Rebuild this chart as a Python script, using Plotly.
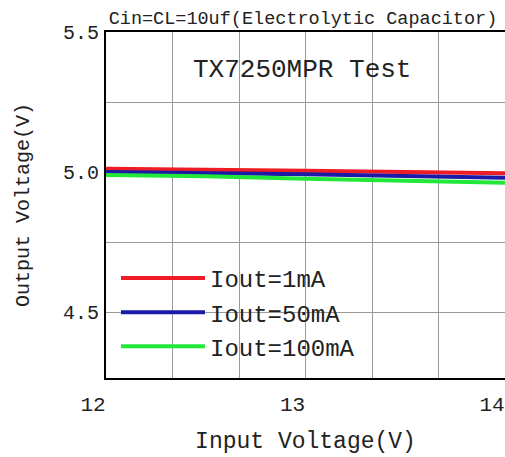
import plotly.graph_objects as go

vin = [12.0, 12.5, 13.0, 13.5, 14.0]
vout_1ma = [5.012, 5.010, 5.005, 5.000, 4.996]
vout_50ma = [5.000, 4.997, 4.992, 4.986, 4.980]
vout_100ma = [4.990, 4.985, 4.976, 4.968, 4.962]
names = ["Iout=1mA", "Iout=50mA", "Iout=100mA"]
colors = ["#ee1c24", "#1a1aa6", "#22e83a"]
x_ticks = [12, 13, 14]
y_ticks = [4.5, 5.0, 5.5]

FONT = "Liberation Mono"
TXT = "#222222"

fig = go.Figure()
for ys, name, col in zip([vout_1ma, vout_50ma, vout_100ma], names, colors):
    fig.add_trace(go.Scatter(x=vin, y=ys, mode="lines", name=name,
                             line=dict(color=col, width=4)))

fig.update_layout(
    width=505, height=457,
    margin=dict(l=106, r=0, t=32, b=79, autoexpand=False),
    paper_bgcolor="white", plot_bgcolor="white",
    font=dict(family=FONT, color=TXT),
    showlegend=True,
    legend=dict(x=0.025, y=0.353, xanchor="left", yanchor="top",
                bgcolor="rgba(0,0,0,0)", font=dict(family=FONT, size=24, color=TXT),
                itemwidth=84, tracegroupgap=0),
    xaxis=dict(range=[12, 14], tickvals=x_ticks, ticktext=[str(v) for v in x_ticks],
               automargin=False,
               showgrid=True, gridcolor="#9a9a9a", gridwidth=1,
               minor=dict(dtick=1/3, tick0=12, showgrid=True, gridcolor="#9a9a9a", gridwidth=1),
               showline=True, linecolor="black", linewidth=2, mirror=True,
               ticks="", tickfont=dict(family=FONT, size=21), ticklabelshift=-13,
               ticklabelstandoff=6,
               title=dict(text="Input Voltage(V)", font=dict(family=FONT, size=23), standoff=16),
               zeroline=False),
    yaxis=dict(range=[4.265, 5.5], tickvals=y_ticks, ticktext=["%.1f" % v for v in y_ticks],
               automargin=False,
               showgrid=True, gridcolor="#9a9a9a", gridwidth=1,
               minor=dict(dtick=0.25, tick0=4.5, showgrid=True, gridcolor="#9a9a9a", gridwidth=1),
               showline=True, linecolor="black", linewidth=2, mirror=False,
               ticks="", tickfont=dict(family=FONT, size=20), ticklabelstandoff=1,
               title=dict(text="Output Voltage(V)", font=dict(family=FONT, size=20), standoff=28),
               zeroline=False),
    title=dict(text="Cin=CL=10uf(Electrolytic Capacitor)", x=0.6, xanchor="center",
               y=0.962, yanchor="middle", font=dict(family=FONT, size=18.5, color=TXT)),
)

fig.add_annotation(text="TX7250MPR Test", xref="paper", yref="paper",
                   x=0.49, y=0.89, xanchor="center", yanchor="middle", showarrow=False,
                   font=dict(family=FONT, size=26, color=TXT))

fig.write_html("out.html", config={"displayModeBar": False},
               post_script="document.body.style.margin='0';")
